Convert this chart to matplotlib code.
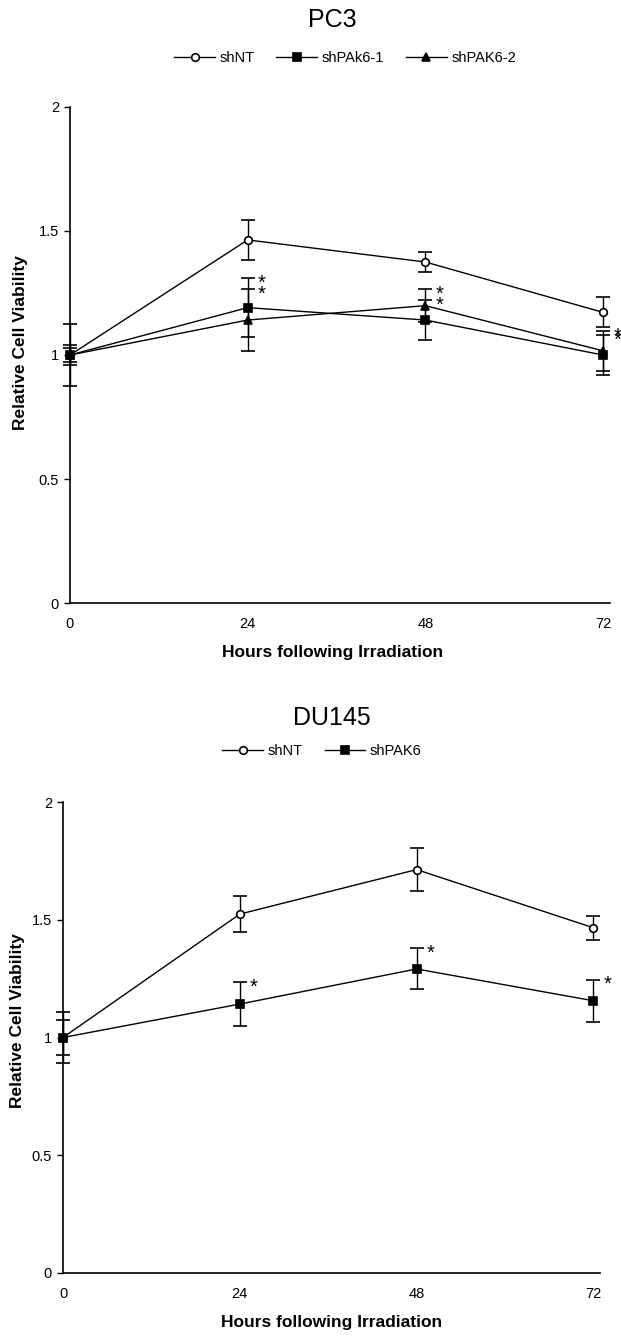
import matplotlib
matplotlib.use("Agg")
import matplotlib.pyplot as plt

plt.rcParams['font.family'] = ['Liberation Sans', 'DejaVu Sans']

hours = [0, 24, 48, 72]
y_ticks = [0, 0.5, 1, 1.5, 2]
y_tick_labels = ["0", "0.5", "1", "1.5", "2"]

# PC3
pc3_labels = ["shNT", "shPAk6-1", "shPAK6-2"]
pc3_mean = {
    "shNT": [1.0, 1.464, 1.375, 1.172],
    "shPAk6-1": [1.0, 1.191, 1.141, 1.0],
    "shPAK6-2": [1.0, 1.141, 1.199, 1.017],
}
pc3_err = {
    "shNT": [0.03, 0.08, 0.04, 0.06],
    "shPAk6-1": [0.04, 0.118, 0.08, 0.08],
    "shPAK6-2": [0.125, 0.125, 0.067, 0.08],
}
pc3_star = {"shPAk6-1": [24, 48, 72], "shPAK6-2": [24, 48, 72]}

# DU145
du_labels = ["shNT", "shPAK6"]
du_mean = {
    "shNT": [1.0, 1.524, 1.713, 1.466],
    "shPAK6": [1.0, 1.142, 1.291, 1.156],
}
du_err = {
    "shNT": [0.073, 0.077, 0.093, 0.05],
    "shPAK6": [0.109, 0.092, 0.087, 0.089],
}
du_star = {"shPAK6": [24, 48, 72]}

styles = {
    "shNT": dict(marker="o", mfc="white", ms=5.5),
    "shPAk6-1": dict(marker="s", mfc="black", ms=5.5),
    "shPAK6-2": dict(marker="^", mfc="black", ms=6),
    "shPAK6": dict(marker="s", mfc="black", ms=5.5),
}


def draw_panel(ax, labels, mean, err, stars, xmax, ylab_xy, xlab_x):
    handles = []
    for name in labels:
        st = styles[name]
        cont = ax.errorbar(hours, mean[name], yerr=err[name], color="black",
                           lw=1.0, elinewidth=1.0, capsize=5, capthick=1.0,
                           marker=st["marker"], mfc=st["mfc"], mec="black",
                           mew=1.2, ms=st["ms"], clip_on=False)
        handles.append(cont[0])
    # significance marks next to the upper caps
    for name, xs in stars.items():
        for x in xs:
            i = hours.index(x)
            ax.text(x + 1.4, mean[name][i] + err[name][i] - 0.02, "*",
                    fontsize=14.5, ha="left", va="center")
    ax.set_xlim(0, xmax)
    ax.set_ylim(0, 2)
    ax.set_yticks(y_ticks)
    ax.set_yticklabels(y_tick_labels, fontsize=10.5)
    ax.set_xticks(hours)
    ax.set_xticklabels([str(h) for h in hours], fontsize=10.5)
    ax.tick_params(axis="x", length=0, pad=10)
    ax.tick_params(axis="y", direction="out", length=4, width=1, pad=4)
    for s in ["top", "right"]:
        ax.spines[s].set_visible(False)
    for s in ["left", "bottom"]:
        ax.spines[s].set_linewidth(1.2)
    ax.set_xlabel("Hours following Irradiation", fontsize=12.5,
                  fontweight="bold", labelpad=10)
    ax.xaxis.label.set_x(xlab_x)
    ax.set_ylabel("Relative Cell Viability", fontsize=12.5,
                  fontweight="bold", va="center")
    ax.yaxis.set_label_coords(*ylab_xy)
    return handles


W, H = 621, 1343
fig = plt.figure(figsize=(W / 100, H / 100), dpi=100)

ax1 = fig.add_axes([70 / W, 1 - 603 / H, 540 / W, 496 / H])
h = draw_panel(ax1, pc3_labels, pc3_mean, pc3_err, pc3_star, 72.95,
               (-0.091, 0.526), 0.487)
fig.text(332 / W, 1 - 20 / H, "PC3", fontsize=18, ha="center", va="center")
fig.legend(h, pc3_labels, loc="center", bbox_to_anchor=(345 / W, 1 - 58 / H),
           ncol=3, frameon=False, fontsize=10.5, handlelength=2.8,
           columnspacing=1.5, handletextpad=0.3)

ax2 = fig.add_axes([63 / W, 1 - 1273 / H, 537 / W, 471 / H])
h = draw_panel(ax2, du_labels, du_mean, du_err, du_star, 72.9,
               (-0.085, 0.537), 0.5)
fig.text(332 / W, 1 - 718 / H, "DU145", fontsize=18, ha="center", va="center")
fig.legend(h, du_labels, loc="center", bbox_to_anchor=(322 / W, 1 - 751 / H),
           ncol=2, frameon=False, fontsize=10.5, handlelength=2.8,
           columnspacing=1.5, handletextpad=0.3)

fig.savefig("out.png", dpi=100)
